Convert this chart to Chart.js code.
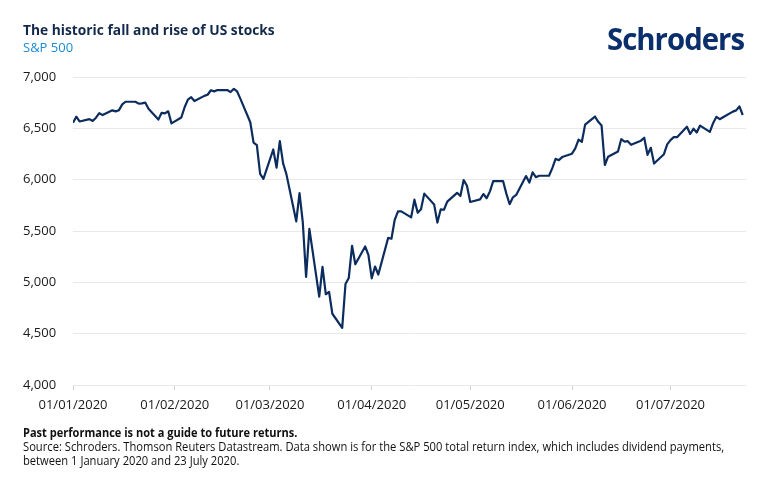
<!DOCTYPE html>
<html><head><meta charset="utf-8">
<script src="https://cdn.jsdelivr.net/npm/chart.js@4"></script>
<style>
html,body{margin:0;padding:0;background:#fff;}
#wrap{position:relative;width:770px;height:492px;overflow:hidden;font-family:'Open Sans',sans-serif;}
#c{position:absolute;left:0;top:0;}
.t{position:absolute;white-space:nowrap;transform-origin:0 50%;}
</style></head><body>
<div id="wrap">
<canvas id="c" width="770" height="492"></canvas>
<div class="t" style="left:23px;top:21px;line-height:18px;font-size:14.5px;font-weight:700;color:#13294b;transform:scaleX(0.95);">The historic fall and rise of US stocks</div>
<div class="t" style="left:23px;top:39px;line-height:16px;font-size:13px;color:#1f8ad2;">S&amp;P 500</div>
<div class="t" style="left:607px;top:19px;line-height:38px;font-size:31px;font-weight:700;letter-spacing:-1px;color:#0b2f6c;transform:scaleX(0.945);">Schroders</div>
<div class="t" style="left:23px;top:426px;line-height:14px;font-size:12px;font-weight:700;color:#111;transform:scaleX(0.92);">Past performance is not a guide to future returns.</div>
<div class="t" style="left:23px;top:440px;line-height:14px;font-size:12px;color:#111;transform:scaleX(0.932);">Source: Schroders. Thomson Reuters Datastream. Data shown is for the S&amp;P 500 total return index, which includes dividend payments,</div>
<div class="t" style="left:23px;top:454px;line-height:14px;font-size:12px;color:#111;transform:scaleX(0.932);">between 1 January 2020 and 23 July 2020.</div>
</div>
<script>
const dates = [
 '2020-01-01','2020-01-02','2020-01-03','2020-01-06','2020-01-07','2020-01-08','2020-01-09','2020-01-10',
 '2020-01-13','2020-01-14','2020-01-15','2020-01-16','2020-01-17','2020-01-20','2020-01-21','2020-01-22',
 '2020-01-23','2020-01-24','2020-01-27','2020-01-28','2020-01-29','2020-01-30','2020-01-31',
 '2020-02-03','2020-02-04','2020-02-05','2020-02-06','2020-02-07','2020-02-10','2020-02-11','2020-02-12',
 '2020-02-13','2020-02-14','2020-02-17','2020-02-18','2020-02-19','2020-02-20','2020-02-21','2020-02-24',
 '2020-02-25','2020-02-26','2020-02-27','2020-02-28',
 '2020-03-02','2020-03-03','2020-03-04','2020-03-05','2020-03-06','2020-03-09','2020-03-10','2020-03-11',
 '2020-03-12','2020-03-13','2020-03-16','2020-03-17','2020-03-18','2020-03-19','2020-03-20','2020-03-23',
 '2020-03-24','2020-03-25','2020-03-26','2020-03-27','2020-03-30','2020-03-31',
 '2020-04-01','2020-04-02','2020-04-03','2020-04-06','2020-04-07','2020-04-08','2020-04-09','2020-04-10',
 '2020-04-13','2020-04-14','2020-04-15','2020-04-16','2020-04-17','2020-04-20','2020-04-21','2020-04-22',
 '2020-04-23','2020-04-24','2020-04-27','2020-04-28','2020-04-29','2020-04-30',
 '2020-05-01','2020-05-04','2020-05-05','2020-05-06','2020-05-07','2020-05-08','2020-05-11','2020-05-12',
 '2020-05-13','2020-05-14','2020-05-15','2020-05-18','2020-05-19','2020-05-20','2020-05-21','2020-05-22',
 '2020-05-25','2020-05-26','2020-05-27','2020-05-28','2020-05-29',
 '2020-06-01','2020-06-02','2020-06-03','2020-06-04','2020-06-05','2020-06-08','2020-06-09','2020-06-10',
 '2020-06-11','2020-06-12','2020-06-15','2020-06-16','2020-06-17','2020-06-18','2020-06-19','2020-06-22',
 '2020-06-23','2020-06-24','2020-06-25','2020-06-26','2020-06-29','2020-06-30',
 '2020-07-01','2020-07-02','2020-07-03','2020-07-06','2020-07-07','2020-07-08','2020-07-09','2020-07-10',
 '2020-07-13','2020-07-14','2020-07-15','2020-07-16','2020-07-17','2020-07-20','2020-07-21','2020-07-22',
 '2020-07-23'
];
const values = [
 6554,6613,6567,6590,6572,6604,6648,6629,
 6675,6665,6677,6733,6759,6759,6741,6743,
 6751,6690,6585,6651,6645,6666,6548,
 6606,6705,6780,6803,6766,6816,6827,6871,
 6860,6873,6873,6853,6885,6859,6787,6559,
 6361,6337,6057,6007,
 6294,6117,6375,6159,6054,5594,5870,5583,
 5052,5521,4860,5151,4884,4907,4694,4557,
 4984,5042,5356,5176,5349,5264,
 5039,5154,5076,5433,5425,5609,5691,5691,
 5633,5805,5678,5711,5864,5759,5582,5710,
 5707,5786,5872,5841,5996,5941,
 5783,5808,5860,5819,5886,5986,5987,5864,
 5761,5828,5851,6035,5972,6071,6024,6038,
 6038,6112,6203,6190,6220,
 6253,6304,6390,6369,6536,6615,6563,6528,
 6143,6224,6275,6394,6371,6375,6339,6380,
 6408,6242,6310,6157,6248,6344,
 6385,6414,6414,6516,6445,6496,6459,6527,
 6465,6552,6612,6589,6608,6663,6675,6713,
 6630
];
const tickDates = ['2020-01-01','2020-02-01','2020-03-01','2020-04-01','2020-05-01','2020-06-01','2020-07-01'];
const tickLabels = ['01/01/2020','01/02/2020','01/03/2020','01/04/2020','01/05/2020','01/06/2020','01/07/2020'];
const yTicks = [4000,4500,5000,5500,6000,6500,7000];
const axisEnd = '2020-07-24';

const base = Date.UTC(2020,0,1);
const dayIdx = s => { const p = s.split('-').map(Number); return Math.round((Date.UTC(p[0],p[1]-1,p[2]) - base)/86400000); };
const tickDays = tickDates.map(dayIdx);
const points = dates.map((d,i)=>({x:dayIdx(d), y:values[i]}));
const tickFont = {family:"'Open Sans', sans-serif", size:13};

new Chart(document.getElementById('c'), {
  type:'line',
  data:{datasets:[{data:points, borderColor:'#0c2c5e', borderWidth:2.2, pointRadius:0, tension:0, fill:false, borderJoinStyle:'round'}]},
  options:{
    responsive:false, animation:false, devicePixelRatio:1,
    layout:{padding:{left:23,right:24,top:77,bottom:0}},
    plugins:{legend:{display:false}, tooltip:{enabled:false}, title:{display:false}},
    scales:{
      x:{type:'linear', min:0, max:dayIdx(axisEnd),
        afterBuildTicks:s=>{ s.ticks = tickDays.map(v=>({value:v})); },
        afterFit:s=>{ s.height = 107; },
        ticks:{autoSkip:false, maxRotation:0, minRotation:0, padding:7, color:'#1a1a1a', font:tickFont,
          callback:(v)=>{ const i = tickDays.indexOf(v); return i>=0 ? tickLabels[i] : ''; }},
        grid:{drawOnChartArea:false, drawTicks:true, tickLength:5, color:'#d0d0d0'},
        border:{display:false}
      },
      y:{min:4000, max:7000,
        afterBuildTicks:s=>{ s.ticks = yTicks.map(v=>({value:v})); },
        afterFit:s=>{ s.width = 50; },
        ticks:{crossAlign:'far', padding:0, color:'#1a1a1a', font:tickFont,
          callback:v=>v.toLocaleString('en-US')},
        grid:{color:'#e8e8e8', drawTicks:false, lineWidth:1},
        border:{display:false}
      }
    }
  }
});
</script>
</body></html>
